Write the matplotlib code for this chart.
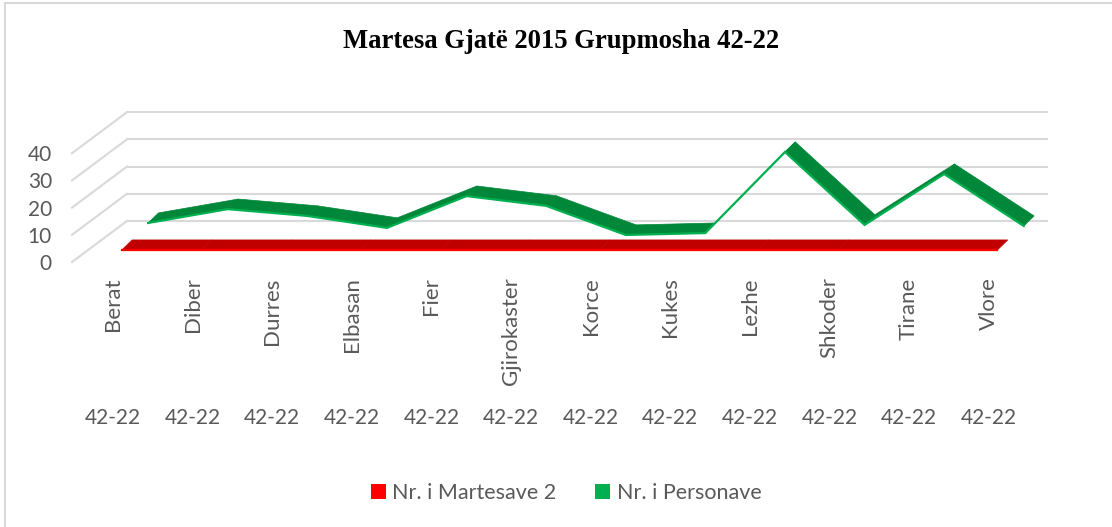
import numpy as np
import matplotlib.pyplot as plt
from matplotlib.patches import Polygon, Patch
from matplotlib.lines import Line2D
from matplotlib.transforms import blended_transform_factory

# data
categories = ['Berat', 'Diber', 'Durres', 'Elbasan', 'Fier', 'Gjirokaster',
              'Korce', 'Kukes', 'Lezhe', 'Shkoder', 'Tirane', 'Vlore']
group_label = '42-22'
martesave = [2, 2, 2, 2, 2, 2, 2, 2, 2, 2, 2, 2]
personave = [4.7, 9.8, 7.3, 2.9, 14.6, 11.0, 0.3, 1.0, 30.8, 4.0, 22.7, 3.6]
y_ticks = [0, 10, 20, 30, 40]
series_names = ['Nr. i Martesave 2', 'Nr. i Personave']

# fake 3D: shift of the back wall (full depth) in data units
DEPTH_X = 0.69
DEPTH_Y = 15.07
TEXT = '#595959'
GRID = '#D9D9D9'

W, H = 1112, 527
fig = plt.figure(figsize=(W / 100, H / 100), dpi=100)
plt.rcParams['font.family'] = ['Lato', 'DejaVu Sans']

# axes = front plane of the 3D box
ax = fig.add_axes([72 / W, (H - 262) / H, (1060 - 72) / W, (262 - 100) / H])
ax.set_xlim(-0.515, (1060 - 113) / 79.6)
ax.set_ylim(0, 162 / 2.72)
ax.patch.set_visible(False)
for s in ax.spines.values():
    s.set_visible(False)

# back wall gridlines and side diagonals
x_left = -0.515
x_right = (1047 - 113) / 79.6
for v in y_ticks:
    ax.plot([x_left + DEPTH_X, x_right], [v + DEPTH_Y, v + DEPTH_Y],
            color=GRID, lw=1.5, zorder=1, clip_on=False)
    ax.plot([x_left, x_left + DEPTH_X], [v, v + DEPTH_Y],
            color=GRID, lw=1.5, zorder=1, clip_on=False)


def ribbon(values, d0, top_col, under_col, edge_col, z):
    xs = np.arange(len(values)) + d0 * DEPTH_X
    ys = np.array(values, dtype=float) + d0 * DEPTH_Y
    ox, oy = 0.13, 3.7  # ribbon thickness
    for i in range(len(values) - 1):
        quad = [(xs[i], ys[i]), (xs[i + 1], ys[i + 1]),
                (xs[i + 1] + ox, ys[i + 1] + oy), (xs[i] + ox, ys[i] + oy)]
        p = ax.transData.transform(quad)
        a, b, c = p[0], p[1], p[3]
        cross = (b[0] - a[0]) * (c[1] - a[1]) - (b[1] - a[1]) * (c[0] - a[0])
        col = top_col if cross > 0 else under_col
        ax.add_patch(Polygon(quad, closed=True, facecolor=col, edgecolor=col,
                             lw=0.5, zorder=z, clip_on=False))
    ax.plot(xs, ys, color=edge_col, lw=1.6, zorder=z + 0.1, clip_on=False,
            solid_joinstyle='miter')


ribbon(personave, 0.64, '#00873A', '#00B050', '#00B050', 3)
ribbon(martesave, 0.16, '#C00000', '#FF0000', '#FF0000', 5)

ax.set_yticks(y_ticks)
ax.set_yticklabels([str(v) for v in y_ticks], fontsize=15, color=TEXT)
ax.set_xticks(range(len(categories)))
ax.set_xticklabels(categories, rotation=90, fontsize=16, color=TEXT)
ax.tick_params(axis='y', length=0, pad=14.4)
ax.tick_params(axis='x', length=0, pad=11.0)

trans = blended_transform_factory(ax.transData, fig.transFigure)
for i in range(len(categories)):
    ax.text(i, 1 - 418.5 / H, group_label, transform=trans, ha='center',
            va='center', fontsize=15, color=TEXT)

fig.text(0.505, 1 - 42 / H, 'Martesa Gjatë 2015 Grupmosha 42-22',
         family='Liberation Serif', fontweight='bold', fontsize=19.2,
         ha='center', va='center', color='black')

handles = [Patch(facecolor='#FF0000'), Patch(facecolor='#00B050')]
fig.legend(handles, series_names, loc='center', ncol=2,
           bbox_to_anchor=(566 / W, 1 - 493 / H), frameon=False,
           fontsize=15.5, labelcolor=TEXT, handlelength=0.7, handleheight=0.7,
           handletextpad=0.3, columnspacing=1.8)

# chart border (left and top visible)
fig.add_artist(Line2D([5 / W, 5 / W], [0, 1 - 3 / H], color=GRID, lw=1.5))
fig.add_artist(Line2D([5 / W, 1], [1 - 3 / H, 1 - 3 / H], color=GRID, lw=1.5))

fig.savefig('out.png', dpi=100, facecolor='white')
